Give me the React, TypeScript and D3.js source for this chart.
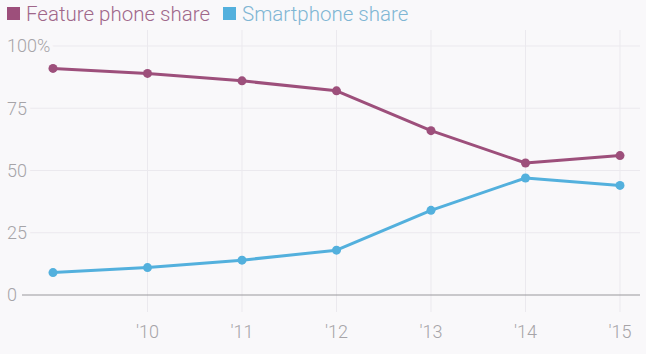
import * as d3 from 'd3';

const years = [2009, 2010, 2011, 2012, 2013, 2014, 2015];
const featureShare = [91, 89, 86, 82, 66, 53, 56];
const smartShare = [9, 11, 14, 18, 34, 47, 44];
const yTicks = [0, 25, 50, 75, 100];
const xTickYears = [2010, 2011, 2012, 2013, 2014, 2015];

const W = 646, H = 354;
const BG = '#f9f8fa';
const FEATURE = '#9d4f7b';
const SMART = '#53b0dd';
const FONT = 'Roboto, "Liberation Sans", sans-serif';

export default function App() {
  const x = d3.scaleLinear().domain([2009, 2015]).range([53, 620]);
  const y = d3.scaleLinear().domain([0, 100]).range([295, 46]);

  const line = d3.line<number>().x((_, i) => x(years[i])).y(d => y(d));

  const series = [
    { name: 'Feature phone share', values: featureShare, color: FEATURE },
    { name: 'Smartphone share', values: smartShare, color: SMART },
  ];

  return (
    <svg width={W} height={H} style={{ position: 'absolute', left: 0, top: 0, background: BG }} fontFamily={FONT}>
      <rect width={W} height={H} fill={BG} />

      {/* vertical grid */}
      {xTickYears.map(yr => (
        <line key={yr} x1={x(yr)} x2={x(yr)} y1={30} y2={312} stroke="#ebe9ee" strokeWidth={1} />
      ))}

      {/* horizontal grid + labels */}
      {yTicks.map(t => (
        <g key={t}>
          <line x1={t === 0 ? 22 : 8} x2={640} y1={y(t)} y2={y(t)}
            stroke={t === 0 ? '#9a989c' : '#ebe9ee'} strokeWidth={t === 0 ? 1.2 : 1} />
          <text x={7} y={y(t)} dy="0.35em" fontSize={18} fontWeight={300} fill="#a6a4a8"
            stroke={BG} strokeWidth={8} style={{ paintOrder: 'stroke' }}>
            {t === 100 ? '100%' : t}
          </text>
        </g>
      ))}

      {/* x labels */}
      {xTickYears.map(yr => (
        <text key={yr} x={x(yr)} y={332} dy="0.35em" textAnchor="middle" fontSize={18} fontWeight={300} fill="#a6a4a8">
          {`'${String(yr).slice(2)}`}
        </text>
      ))}

      {/* lines */}
      {series.map(s => (
        <g key={s.name}>
          <path d={line(s.values) ?? ''} fill="none" stroke={s.color} strokeWidth={3} strokeLinejoin="round" />
          {s.values.map((v, i) => (
            <circle key={i} cx={x(years[i])} cy={y(v)} r={4.5} fill={s.color} />
          ))}
        </g>
      ))}

      {/* legend */}
      <rect x={7} y={7} width={13} height={13} fill={FEATURE} />
      <text x={26} y={14} dy="0.35em" fontSize={20.5} fontWeight={300} fill="#a0678a">Feature phone share</text>
      <rect x={223} y={7} width={13} height={13} fill={SMART} />
      <text x={242} y={14} dy="0.35em" fontSize={20.5} fontWeight={300} fill="#7fb6d4">Smartphone share</text>
    </svg>
  );
}
